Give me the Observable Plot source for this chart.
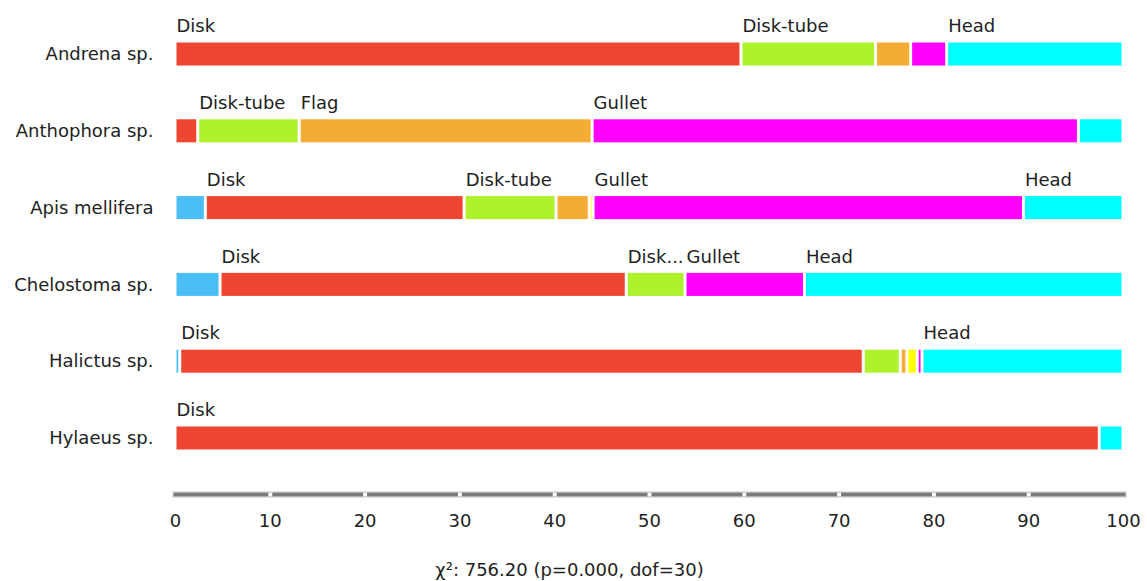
<!DOCTYPE html>
<html>
<head>
<meta charset="utf-8">
<script src="https://cdn.jsdelivr.net/npm/d3@7"></script>
<script src="https://cdn.jsdelivr.net/npm/@observablehq/plot@0.6"></script>
<style>
  html, body { margin: 0; padding: 0; background: #fff; }
  #chart { width: 1147px; }
  #caption { width: 1147px; text-align: center; font-family: "DejaVu Sans", sans-serif; font-size: 18px; color: #222; margin-top: 14px; padding-right: 8px; box-sizing: border-box; }
</style>
</head>
<body>
<div id="chart"></div>
<div id="caption"></div>
<script>
// ---- data ----
const species = ["Andrena sp.", "Anthophora sp.", "Apis mellifera", "Chelostoma sp.", "Halictus sp.", "Hylaeus sp."];
const flowerTypes = ["Brush", "Disk", "Disk-tube", "Flag", "Funnel", "Gullet", "Head"];
const typeColors = ["#4bbef7", "#ee4630", "#adf22d", "#f5ac35", "#ffff00", "#ff00ff", "#00ffff"];
// percentage of visits per species, one array per flower type (order = species)
const brush    = [0,    0,    3.2,  4.75,  0.5, 0];
const disk     = [59.7, 2.4,  27.3, 42.85, 72.1, 97.5];
const diskTube = [14.2, 10.7, 9.7,  6.2,   3.9, 0];
const flag     = [3.7,  30.9, 3.5,  0,     0.7, 0];
const funnel   = [0,    0,    0.4,  0,     1.1, 0];
const gullet   = [3.8,  51.3, 45.4, 12.6,  0.5, 0];
const head     = [18.6, 4.7,  10.5, 33.6,  21.2, 2.5];
const xTicks = [0, 10, 20, 30, 40, 50, 60, 70, 80, 90, 100];
const captionText = "χ²: 756.20 (p=0.000, dof=30)";

const series = [brush, disk, diskTube, flag, funnel, gullet, head];
const rows = [];
species.forEach((s, i) => {
  flowerTypes.forEach((t, j) => {
    const v = series[j][i];
    if (v > 0) rows.push({species: s, type: t, value: v});
  });
});

const W = 1147, H = 545, mL = 175, mR = 24, mT = 10, mB = 51;
const pxPerUnit = (W - mL - mR) / 100;
const fontSpec = "18px 'DejaVu Sans'";
const ctx = document.createElement("canvas").getContext("2d");
ctx.font = fontSpec;
const tw = s => ctx.measureText(s).width;
function segLabel(d) {
  const avail = d.value * pxPerUnit - 2;
  if (avail < 50) return "";
  if (tw(d.type) <= avail) return d.type;
  for (let n = d.type.length - 1; n > 0; n--) {
    const s = d.type.slice(0, n) + "...";
    if (tw(s) <= avail) return s;
  }
  return "";
}

const plot = Plot.plot({
  width: W, height: H,
  marginLeft: mL, marginRight: mR, marginTop: mT, marginBottom: mB,
  style: {fontFamily: "DejaVu Sans, sans-serif", fontSize: "18px", color: "#222", background: "#fff"},
  x: {domain: [0, 100]},
  y: {domain: species, range: [42.5, 449.5], paddingInner: 0.7, paddingOuter: 0, round: false},
  color: {domain: flowerTypes, range: typeColors},
  marks: [
    Plot.barX(rows, Plot.stackX({x: "value", y: "species", fill: "type", insetLeft: 1.5, insetRight: 1.5})),
    Plot.text(rows, Plot.stackX1({x: "value", y: "species", text: segLabel, textAnchor: "start", dx: 1, dy: -28, fill: "#222", fontSize: 18})),
    Plot.frame({anchor: "bottom", stroke: "#c4c4c4", strokeWidth: 6}),
    Plot.frame({anchor: "bottom", stroke: "#7b7b7b", strokeWidth: 3.5}),
    Plot.dot(xTicks.slice(1, -1), {x: d => d, frameAnchor: "bottom", symbol: "square", r: 2.2, fill: "#fff", stroke: "none"}),
    Plot.axisX({ticks: xTicks, tickSize: 0, tickPadding: 20, fontSize: 18, tickFormat: d => String(d), label: null}),
    Plot.axisY({tickSize: 0, tickPadding: 22, fontSize: 18, label: null})
  ]
});
document.getElementById("chart").appendChild(plot);
document.getElementById("caption").textContent = captionText;
</script>
</body>
</html>
